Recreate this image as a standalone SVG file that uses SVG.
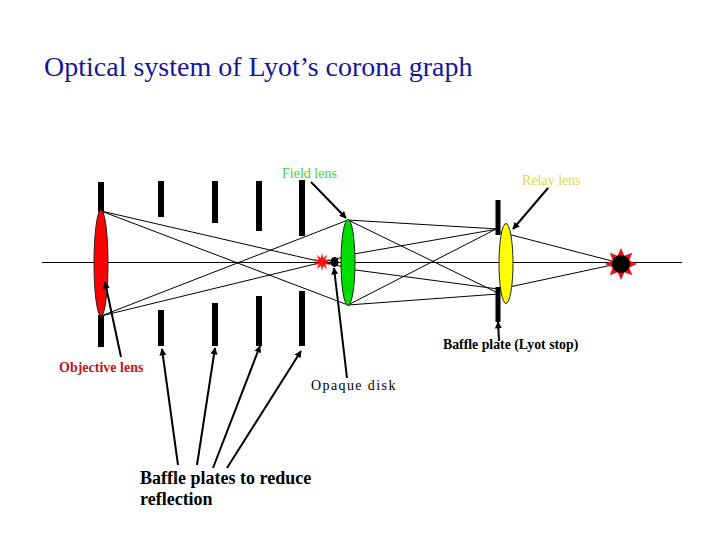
<svg xmlns="http://www.w3.org/2000/svg" width="720" height="540" viewBox="0 0 720 540">
<style>
.ray{stroke:#000;stroke-width:1;fill:none}
.baffle{fill:#000}
.arrow{stroke:#000;stroke-width:2;fill:none;marker-end:url(#ah)}
.lens{stroke:#222;stroke-width:1}
.t{font-family:"Liberation Serif","Times New Roman",serif}
</style>
<defs>
<marker id="ah" viewBox="0 0 10 10" refX="9" refY="5" markerWidth="8" markerHeight="7" markerUnits="userSpaceOnUse" orient="auto">
<path d="M0,0 L10,5 L0,10 z" fill="#000"/>
</marker>
<polygon id="smallstar" points="0,-9 1.24,-3.8 5.29,-7.28 3.24,-2.35 8.56,-2.78 4,0 8.56,2.78 3.24,2.35 5.29,7.28 1.24,3.8 0,9 -1.24,3.8 -5.29,7.28 -3.24,2.35 -8.56,2.78 -4,0 -8.56,-2.78 -3.24,-2.35 -5.29,-7.28 -1.24,-3.8"/>
</defs>
<rect width="720" height="540" fill="#fff"/>

<text id="title" class="t" x="44" y="76" font-size="28" fill="#16169a">Optical system of Lyot’s corona graph</text>

<g id="connectors">
<line class="ray" x1="42" y1="262.5" x2="682" y2="262.5"/>
<line class="ray" x1="101" y1="211" x2="348" y2="268"/>
<line class="ray" x1="101" y1="211" x2="348" y2="305"/>
<line class="ray" x1="101" y1="316" x2="348" y2="256"/>
<line class="ray" x1="101" y1="316" x2="348" y2="220"/>
<line class="ray" x1="348" y1="220" x2="498" y2="229"/>
<line class="ray" x1="348" y1="220" x2="498" y2="293"/>
<line class="ray" x1="348" y1="305" x2="498" y2="228"/>
<line class="ray" x1="348" y1="305" x2="498" y2="294"/>
<line class="ray" x1="348" y1="255" x2="498" y2="229"/>
<line class="ray" x1="348" y1="269" x2="498" y2="289"/>
<line class="ray" x1="500" y1="232" x2="612" y2="261"/>
<line class="ray" x1="500" y1="289" x2="612" y2="265"/>
</g>

<g id="baffles">
<rect class="baffle" x="98" y="182" width="6" height="30"/>
<rect class="baffle" x="98" y="315" width="6" height="32"/>
<rect class="baffle" x="158" y="181" width="6" height="36"/>
<rect class="baffle" x="158" y="310" width="6" height="36"/>
<rect class="baffle" x="212" y="181" width="6" height="42"/>
<rect class="baffle" x="212" y="303" width="6" height="43"/>
<rect class="baffle" x="256" y="181" width="6" height="50"/>
<rect class="baffle" x="256" y="296" width="6" height="50"/>
<rect class="baffle" x="299" y="180" width="6" height="56"/>
<rect class="baffle" x="299" y="291" width="6" height="55"/>
</g>

<g id="lyot-stop">
<rect class="baffle" x="495.5" y="200" width="5" height="35"/>
<rect class="baffle" x="495.5" y="287" width="5" height="35"/>
</g>

<g id="objective-lens">
<ellipse class="lens" cx="101" cy="263" rx="7" ry="53" fill="#ff0000" stroke="#8a0000"/>
</g>

<g id="field-lens">
<ellipse class="lens" cx="348" cy="262.5" rx="7" ry="43" fill="#00dd00" stroke="#114411"/>
</g>

<g id="relay-lens">
<ellipse class="lens" cx="506" cy="263.5" rx="7" ry="40" fill="#ffff00" stroke="#555500"/>
</g>

<g id="focal-star">
<use href="#smallstar" x="322" y="262" fill="#ff1010"/>
</g>

<g id="opaque-disk">
<ellipse cx="334.5" cy="262" rx="4" ry="5" fill="#000"/>
</g>

<g id="image">
<polygon transform="translate(621,264)" fill="#ee1111" points="0,-16 3.44,-8.31 11.31,-11.31 8.31,-3.44 16,0 8.31,3.44 11.31,11.31 3.44,8.31 0,16 -3.44,8.31 -11.31,11.31 -8.31,3.44 -16,0 -8.31,-3.44 -11.31,-11.31 -3.44,-8.31"/>
<circle cx="621" cy="264" r="9" fill="#000"/>
</g>

<g id="label-arrows">
<line class="arrow" x1="311" y1="182" x2="346" y2="218"/>
<line class="arrow" x1="548" y1="188" x2="513" y2="229"/>
<line class="arrow" x1="121" y1="357" x2="105" y2="282"/>
<line class="arrow" x1="347" y1="378" x2="334" y2="268"/>
<line class="arrow" x1="499" y1="341" x2="498" y2="322"/>
<line class="arrow" x1="178" y1="465" x2="162" y2="349"/>
<line class="arrow" x1="197" y1="465" x2="215" y2="348"/>
<line class="arrow" x1="213" y1="468" x2="260" y2="346"/>
<line class="arrow" x1="227" y1="468" x2="301" y2="351"/>
</g>

<g id="labels">
<text class="t" x="282" y="178" font-size="14" fill="#3ed23e">Field lens</text>
<text class="t" x="522" y="185" font-size="14" fill="#d8d84a">Relay lens</text>
<text class="t" x="443" y="349" font-size="13.8" font-weight="bold" fill="#000">Baffle plate (Lyot stop)</text>
<text class="t" x="59" y="372" font-size="14" font-weight="bold" fill="#c4161c">Objective lens</text>
<text class="t" x="311" y="390" font-size="14" letter-spacing="1.4" fill="#000">Opaque disk</text>
<text class="t" x="140" y="484" font-size="18" font-weight="bold" fill="#000">Baffle plates to reduce</text>
<text class="t" x="140" y="505" font-size="18" font-weight="bold" fill="#000">reflection</text>
</g>
</svg>
